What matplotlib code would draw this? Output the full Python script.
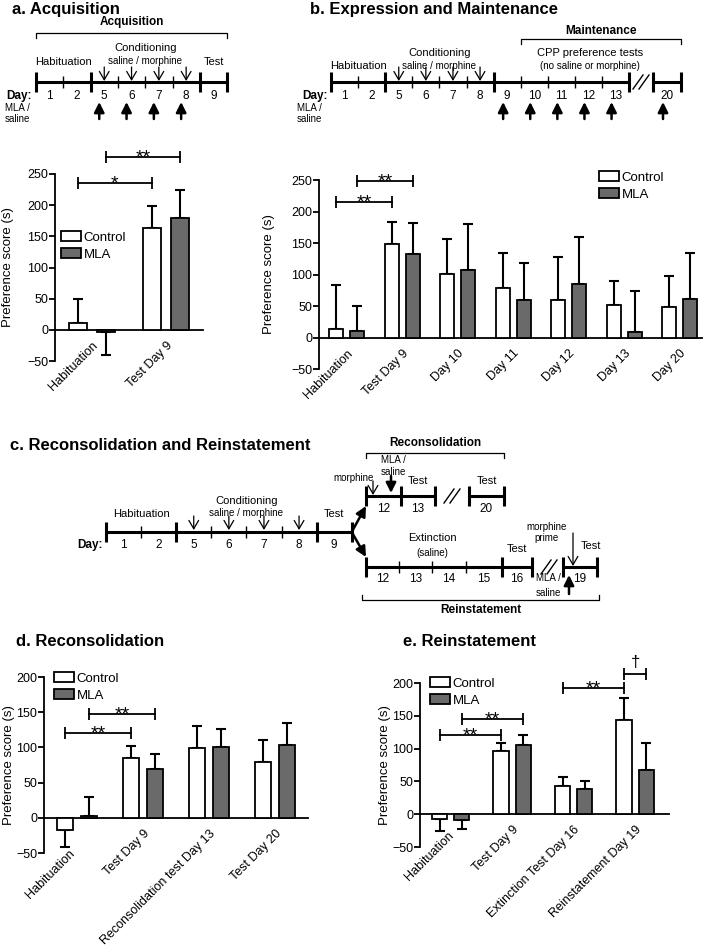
import numpy as np
import matplotlib
matplotlib.use("Agg")
import matplotlib.pyplot as plt
from matplotlib.patches import Patch
from matplotlib.transforms import ScaledTranslation

plt.rcParams['font.family'] = ['Liberation Sans', 'DejaVu Sans']

W, H = 709, 948

# -------------------------------
# Bar chart data (preference score, s)
# -------------------------------
acq_groups = ["Habituation", "Test Day 9"]
acq_control = [11, 164]
acq_control_sem = [39, 35]
acq_mla = [-3, 180]
acq_mla_sem = [37, 45]

exp_groups = ["Habituation", "Test Day 9", "Day 10", "Day 11", "Day 12", "Day 13", "Day 20"]
exp_control = [13, 149, 101, 79, 59, 52, 49]
exp_control_sem = [70, 34, 56, 55, 69, 38, 48]
exp_mla = [11, 133, 107, 60, 85, 8, 61]
exp_mla_sem = [39, 49, 73, 58, 75, 66, 73]

rec_groups = ["Habituation", "Test Day 9", "Reconsolidation test Day 13", "Test Day 20"]
rec_control = [-17, 85, 99, 79]
rec_control_sem = [24, 17, 31, 31]
rec_mla = [3, 69, 100, 103]
rec_mla_sem = [27, 21, 26, 31]

rein_groups = ["Habituation", "Test Day 9", "Extinction Test Day 16", "Reinstatement Day 19"]
rein_control = [-8, 96, 43, 143]
rein_control_sem = [17, 13, 13, 34]
rein_mla = [-9, 105, 38, 67]
rein_mla_sem = [13, 15, 13, 42]

# significance brackets: (group, series) -> (group, series), height, label
acq_sig = [((0, 0), (1, 0), 235, "*"), ((0, 1), (1, 1), 277, "**")]
exp_sig = [((0, 0), (1, 0), 215, "**"), ((0, 1), (1, 1), 248, "**")]
rec_sig = [((0, 0), (1, 0), 120, "**"), ((0, 1), (1, 1), 148, "**")]
rein_sig = [((0, 0), (1, 0), 121, "**"), ((0, 1), (1, 1), 145, "**"),
            ((2, 0), (3, 0), 192, "**"), ((3, 0), (3, 1), 214, "\u2020")]

# timeline day labels
a_days = ["1", "2", "5", "6", "7", "8", "9"]
b_days = ["1", "2", "5", "6", "7", "8", "9", "10", "11", "12", "13"]
b_late = ["20"]
c_days = ["1", "2", "5", "6", "7", "8", "9"]
c_recon_days = ["12", "13"]
c_recon_late = ["20"]
c_rein_days = ["12", "13", "14", "15", "16"]
c_rein_late = ["19"]

CONTROL_COLOR = "white"
MLA_COLOR = "#6a6a6a"

fig = plt.figure(figsize=(W / 100, H / 100), dpi=100)
ov = fig.add_axes([0, 0, 1, 1])
ov.set_xlim(0, W)
ov.set_ylim(H, 0)
ov.axis("off")


def px_axes(left, top, right, bottom):
    return fig.add_axes([left / W, 1 - bottom / H, (right - left) / W, (bottom - top) / H])


def bar_panel(rect, groups, ctrl, ctrl_sem, mla, mla_sem, ylim, xlim, off, width,
              sig, legend_xy, ylabel_x, label_shift=None):
    ax = px_axes(*rect)
    x = np.arange(len(groups))
    for vals, sems, color, sgn, lab in [(ctrl, ctrl_sem, CONTROL_COLOR, -1, "Control"),
                                        (mla, mla_sem, MLA_COLOR, 1, "MLA")]:
        lower = [s if v < 0 else 0 for v, s in zip(vals, sems)]
        upper = [s if v >= 0 else 0 for v, s in zip(vals, sems)]
        ax.bar(x + sgn * off, vals, width, color=color, edgecolor="black",
               linewidth=1.3, zorder=3, label=lab)
        ax.errorbar(x + sgn * off, vals, yerr=[lower, upper], fmt="none", ecolor="black",
                    elinewidth=1.5, capsize=3.5, capthick=1.5, zorder=2)
    ax.set_xlim(*xlim)
    ax.set_ylim(*ylim)
    ax.set_yticks(np.arange(ylim[0], ylim[1] + 1, 50))
    ax.spines["top"].set_visible(False)
    ax.spines["right"].set_visible(False)
    ax.spines["bottom"].set_position(("data", 0))
    ax.spines["left"].set_bounds(*ylim)
    for s in ("left", "bottom"):
        ax.spines[s].set_linewidth(1.3)
    ax.set_xticks(x)
    ax.set_xticklabels(groups, rotation=45, ha="right", rotation_mode="anchor", fontsize=9)
    ax.tick_params(axis="x", length=0, pad=7)
    ax.tick_params(axis="y", direction="out", length=4, width=1.3, labelsize=9, pad=1)
    ax.patch.set_visible(False)
    ax.set_ylabel("Preference score (s)", fontsize=9.5)
    ax.yaxis.set_label_coords((ylabel_x - rect[0]) / (rect[2] - rect[0]), 0.5)
    if label_shift:
        for i, (dx, dy) in label_shift.items():
            lab = ax.get_xticklabels()[i]
            lab.set_transform(lab.get_transform() +
                              ScaledTranslation(dx / 100, -dy / 100, fig.dpi_scale_trans))

    for (g1, s1), (g2, s2), h, lab in sig:
        x1 = g1 + (off if s1 else -off)
        x2 = g2 + (off if s2 else -off)
        ax.plot([x1, x2], [h, h], color="black", lw=1.3, clip_on=False)
        ax.plot([x1, x2], [h, h], ls="none", marker="|", ms=8, mew=1.3,
                color="black", clip_on=False)
        if lab == "\u2020":
            fs, dy = 12, 5
        else:
            fs, dy = 14, -4
        ax.annotate(lab, xy=((x1 + x2) / 2, h), xytext=(0, dy), textcoords="offset points",
                    ha="center", va="baseline", fontsize=fs, annotation_clip=False)

    handles = [Patch(facecolor=CONTROL_COLOR, edgecolor="black", linewidth=1.3),
               Patch(facecolor=MLA_COLOR, edgecolor="black", linewidth=1.3)]
    ax.legend(handles, ["Control", "MLA"], loc="upper left", bbox_to_anchor=legend_xy,
              bbox_transform=ov.transData, frameon=False, fontsize=9.5,
              handlelength=1.5, handleheight=0.8, handletextpad=0.2,
              labelspacing=0.35, borderpad=0, borderaxespad=0)
    return ax


bar_panel((55, 174, 203, 361), acq_groups, acq_control, acq_control_sem, acq_mla, acq_mla_sem,
          (-50, 250), (-0.5, 1.5), 0.19, 0.24, acq_sig, (61, 231), 14)
bar_panel((319, 180, 702, 369), exp_groups, exp_control, exp_control_sem, exp_mla, exp_mla_sem,
          (-50, 250), (-0.5, 6.4), 0.19, 0.25, exp_sig, (599, 171), 275)
bar_panel((44, 677, 308, 853), rec_groups, rec_control, rec_control_sem, rec_mla, rec_mla_sem,
          (-50, 200), (-0.5, 3.5), 0.18, 0.25, rec_sig, (54, 672), 15,
          label_shift={0: (-8, 20)})
bar_panel((420, 683, 669, 847), rein_groups, rein_control, rein_control_sem, rein_mla, rein_mla_sem,
          (-50, 200), (-0.5, 3.55), 0.18, 0.25, rein_sig, (430, 677), 391,
          label_shift={0: (-3, 6)})


# -------------------------------
# Timeline helpers (overlay axes in pixel units)
# -------------------------------
def draw_line(xs, y, tall, lw=2.2):
    ov.plot([xs[0], xs[-1]], [y, y], color="k", lw=lw, solid_capstyle="butt")
    for i, xx in enumerate(xs):
        big = i in tall
        h = 10 if big else 6
        ov.plot([xx, xx], [y - h, y + h], color="k", lw=lw if big else 1.0,
                solid_capstyle="butt")


def day_labels(xs, days, y, fs=8.5):
    for i, d in enumerate(days):
        ov.text((xs[i] + xs[i + 1]) / 2, y, d, ha="center", va="center", fontsize=fs)


def brk(x, y):
    for dx in (-3, 3):
        ov.plot([x + dx - 5, x + dx + 5], [y + 7, y - 7], color="k", lw=1.0)


def open_arrow(x, y0, y1):
    ov.annotate("", xy=(x, y1), xytext=(x, y0),
                arrowprops=dict(arrowstyle="->,head_length=0.6,head_width=0.35", lw=0.9,
                                color="k", shrinkA=0, shrinkB=0, mutation_scale=10))


def filled_arrow(x0, y0, x1, y1):
    ov.annotate("", xy=(x1, y1), xytext=(x0, y0),
                arrowprops=dict(arrowstyle="-|>,head_length=0.6,head_width=0.3", lw=1.8,
                                color="k", shrinkA=0, shrinkB=0, mutation_scale=10))


def bracket(x0, x1, y, down=True, tick=5):
    t = tick if down else -tick
    ov.plot([x0, x0, x1, x1], [y + t, y, y, y + t], color="k", lw=0.9)


def txt(x, y, s, fs=8, bold=False, ha="center"):
    ov.text(x, y, s, ha=ha, va="center", fontsize=fs,
            fontweight="bold" if bold else "normal")


# titles
txt(12, 9, "a. Acquisition", fs=12, bold=True, ha="left")
txt(310, 9, "b. Expression and Maintenance", fs=12, bold=True, ha="left")
txt(10, 445, "c. Reconsolidation and Reinstatement", fs=12, bold=True, ha="left")
txt(16, 642, "d. Reconsolidation", fs=12, bold=True, ha="left")
txt(403, 642, "e. Reinstatement", fs=12, bold=True, ha="left")

# ---- panel a timeline ----
xa = 36 + 27.3 * np.arange(len(a_days) + 1)
draw_line(xa, 82, {0, 2, 6, 7})
day_labels(xa, a_days, 96)
txt(6, 96, "Day:", fs=8.5, bold=True, ha="left")
txt(5, 108, "MLA /", fs=7, ha="left")
txt(5, 119, "saline", fs=7, ha="left")
txt((xa[0] + xa[2]) / 2, 62, "Habituation")
txt((xa[2] + xa[6]) / 2, 48, "Conditioning")
txt((xa[2] + xa[6]) / 2, 61, "saline / morphine", fs=7)
txt((xa[6] + xa[7]) / 2, 62, "Test")
bracket(xa[0], xa[7], 33)
txt((xa[0] + xa[7]) / 2, 22, "Acquisition", fs=8.5, bold=True)
for i in range(2, 6):
    c = (xa[i] + xa[i + 1]) / 2
    open_arrow(c, 67, 81)
    filled_arrow(c - 5, 119, c - 5, 102)

# ---- panel b timeline ----
xb = 331 + 27.1 * np.arange(len(b_days) + 1)
draw_line(xb, 82, {0, 2, 6, 11})
xb2 = np.array([653, 681])
draw_line(xb2, 82, {0, 1})
brk(641, 82)
day_labels(xb, b_days, 96)
day_labels(xb2, b_late, 96)
txt(302, 96, "Day:", fs=8.5, bold=True, ha="left")
txt(297, 108, "MLA /", fs=7, ha="left")
txt(297, 119, "saline", fs=7, ha="left")
txt((xb[0] + xb[2]) / 2, 66, "Habituation")
txt((xb[2] + xb[6]) / 2, 53, "Conditioning")
txt((xb[2] + xb[6]) / 2, 66, "saline / morphine", fs=7)
txt(590, 53, "CPP preference tests")
txt(590, 66, "(no saline or morphine)", fs=7)
bracket(xb[7], xb2[1], 39)
txt((xb[7] + xb2[1]) / 2, 31, "Maintenance", fs=8.5, bold=True)
for i in range(2, 6):
    open_arrow((xb[i] + xb[i + 1]) / 2, 67, 81)
for i in range(6, 11):
    c = (xb[i] + xb[i + 1]) / 2 - 4
    filled_arrow(c, 119, c, 102)
c = (xb2[0] + xb2[1]) / 2 - 4
filled_arrow(c, 119, c, 102)

# ---- panel c timeline ----
xc = 106 + 35.1 * np.arange(len(c_days) + 1)
draw_line(xc, 532, {0, 2, 6, 7})
day_labels(xc, c_days, 545)
txt(77, 545, "Day:", fs=8.5, bold=True, ha="left")
txt((xc[0] + xc[2]) / 2, 514, "Habituation")
txt((xc[2] + xc[6]) / 2, 501, "Conditioning")
txt((xc[2] + xc[6]) / 2, 513, "saline / morphine", fs=7)
txt((xc[6] + xc[7]) / 2, 514, "Test")
for i in range(2, 6):
    open_arrow((xc[i] + xc[i + 1]) / 2, 516, 530)
filled_arrow(xc[7], 532, 366, 506)
filled_arrow(xc[7], 532, 366, 557)

# reconsolidation branch
xr = np.array([366, 401, 435])
draw_line(xr, 496, {0, 1, 2})
xr2 = np.array([469, 504])
draw_line(xr2, 496, {0, 1})
brk(452, 496)
day_labels(xr, c_recon_days, 509)
day_labels(xr2, c_recon_late, 509)
txt((xr[1] + xr[2]) / 2, 481, "Test")
txt((xr2[0] + xr2[1]) / 2, 481, "Test")
txt(354, 478, "morphine", fs=7)
open_arrow(373, 481, 495)
txt(393, 460, "MLA /", fs=7)
txt(393, 472, "saline", fs=7)
filled_arrow(391, 476, 391, 493)
bracket(xr[0], xr2[1], 453)
txt((xr[0] + xr2[1]) / 2, 443, "Reconsolidation", fs=8.5, bold=True)

# reinstatement branch
xe = np.array([366, 399, 432, 466, 502, 532])
draw_line(xe, 567, {0, 4, 5})
xe2 = np.array([563, 597])
draw_line(xe2, 567, {0, 1})
brk(549, 567)
day_labels(xe, c_rein_days, 579)
day_labels(xe2, c_rein_late, 579)
txt(432, 538, "Extinction")
txt(432, 553, "(saline)", fs=7)
txt((xe[4] + xe[5]) / 2, 549, "Test")
txt(591, 546, "Test")
txt(547, 527, "morphine", fs=7)
txt(547, 538, "prime", fs=7)
open_arrow(573, 533, 566)
txt(548, 578, "MLA /", fs=7)
txt(548, 593, "saline", fs=7)
filled_arrow(569, 594, 569, 575)
bracket(362, 599, 600, down=False)
txt(481, 610, "Reinstatement", fs=8.5, bold=True)

fig.savefig("out.png", dpi=100)
